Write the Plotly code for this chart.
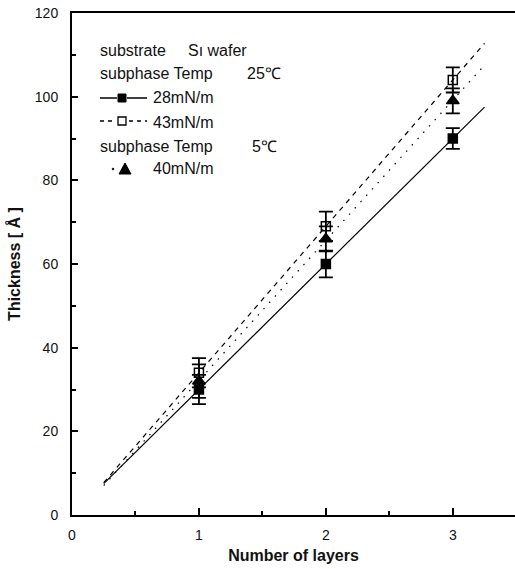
import numpy as np
import plotly.graph_objects as go

# ---- data ----
layers = [1, 2, 3]
thk_28 = [30, 60, 90]
err_28 = [3.5, 3.2, 2.5]
thk_43 = [34, 69, 104]
err_43 = [3.5, 3.5, 3.0]
thk_40 = [32, 66, 99]
err_40 = [4.0, 3.0, 3.0]
fit_x = [0.25, 3.25]

x_ticks = [0, 1, 2, 3]
y_ticks = [0, 20, 40, 60, 80, 100, 120]

W, H = 515, 569
L, R, T, B = 72, 0, 13, 54
FONT = "Liberation Sans, Arial, sans-serif"

fig = go.Figure()

def fit_line(y):
    k, b = np.polyfit(layers, y, 1)
    xs = np.array(fit_x)
    return xs, k * xs + b

for y, dash in [(thk_28, "solid"), (thk_43, "5px,5px"), (thk_40, "1.5px,7px")]:
    xs, ys = fit_line(y)
    fig.add_trace(go.Scatter(x=xs, y=ys, mode="lines",
                             line=dict(color="black", width=1.2, dash=dash),
                             showlegend=False, hoverinfo="skip"))

def pts(y, e, sym, size):
    fig.add_trace(go.Scatter(
        x=layers, y=y, mode="markers",
        marker=dict(symbol=sym, size=size, color="black",
                    line=dict(color="black", width=1.5)),
        error_y=dict(type="data", array=e, visible=True, color="black",
                     thickness=1.8, width=7),
        showlegend=False))

pts(thk_28, err_28, "square", 9)
pts(thk_43, err_43, "square-open", 9)
pts(thk_40, err_40, "triangle-up", 11)

pw, ph = W - L - R, H - T - B
def px(x): return (x - L) / pw
def py(y): return (H - B - y) / ph

legend_pieces = [
    (98, 50, "substrate"), (186, 50, "Sı wafer"),
    (98, 73, "subphase Temp"), (245, 73, "25℃"),
    (151, 98, "28mN/m"),
    (151, 122, "43mN/m"),
    (98, 146, "subphase Temp"), (250, 146, "5℃"),
    (151, 169, "40mN/m"),
]
for x0, y0, t in legend_pieces:
    fig.add_annotation(x=px(x0), y=py(y0), xref="paper", yref="paper",
                       text=t, showarrow=False, xanchor="left", yanchor="middle",
                       font=dict(family=FONT, size=16, color="#111"))

# legend sample glyphs
def seg(x0, x1, y, dash="solid"):
    fig.add_shape(type="line", xref="paper", yref="paper",
                  x0=px(x0), x1=px(x1), y0=py(y), y1=py(y),
                  line=dict(color="black", width=1.5, dash=dash))

seg(100, 117, 98); seg(127, 147, 98)
fig.add_shape(type="rect", xref="paper", yref="paper",
              x0=px(118), x1=px(126), y0=py(102), y1=py(94),
              fillcolor="black", line=dict(color="black", width=1))
seg(100, 116, 121, "4px,4px"); seg(129, 147, 121, "4px,4px")
fig.add_shape(type="rect", xref="paper", yref="paper",
              x0=px(118), x1=px(126), y0=py(125), y1=py(117),
              fillcolor="white", line=dict(color="black", width=1.3))
fig.add_shape(type="path", xref="paper", yref="paper",
              path=f"M {px(119)} {py(174)} L {px(131)} {py(174)} L {px(125)} {py(163)} Z",
              fillcolor="black", line=dict(color="black", width=1))
fig.add_shape(type="circle", xref="paper", yref="paper",
              x0=px(112), x1=px(114), y0=py(170), y1=py(168),
              fillcolor="black", line=dict(color="black", width=0.5))

fig.update_layout(
    width=W, height=H,
    margin=dict(l=L, r=R, t=T, b=B),
    plot_bgcolor="white", paper_bgcolor="white",
    font=dict(family=FONT, size=12, color="#111"),
    xaxis=dict(range=[0, 3.49], tickvals=x_ticks, ticktext=[str(v) for v in x_ticks],
               ticks="inside", ticklen=7, tickwidth=1.5, tickcolor="black",
               tickfont=dict(family=FONT, size=14),
               ticklabelstandoff=6,
               minor=dict(dtick=0.5, tick0=0, ticks="inside", ticklen=4, tickcolor="black", tickwidth=1.5),
               showline=True, linecolor="black", linewidth=2, mirror=True,
               showgrid=False, zeroline=False,
               title=dict(text="<b>Number of layers</b>", font=dict(size=16, family=FONT), standoff=8)),
    yaxis=dict(range=[0, 120], tickvals=y_ticks,
               ticks="inside", ticklen=6, tickwidth=1.5, tickcolor="black",
               tickfont=dict(family=FONT, size=14),
               ticklabelstandoff=9,
               minor=dict(dtick=10, tick0=0, ticks="inside", ticklen=4, tickcolor="black", tickwidth=1.5),
               showline=True, linecolor="black", linewidth=2,
               showgrid=False, zeroline=False,
               title=dict(text="<b>Thickness [ Å ]</b>", font=dict(size=16, family=FONT), standoff=10)),
)

fig.write_html("out.html")
